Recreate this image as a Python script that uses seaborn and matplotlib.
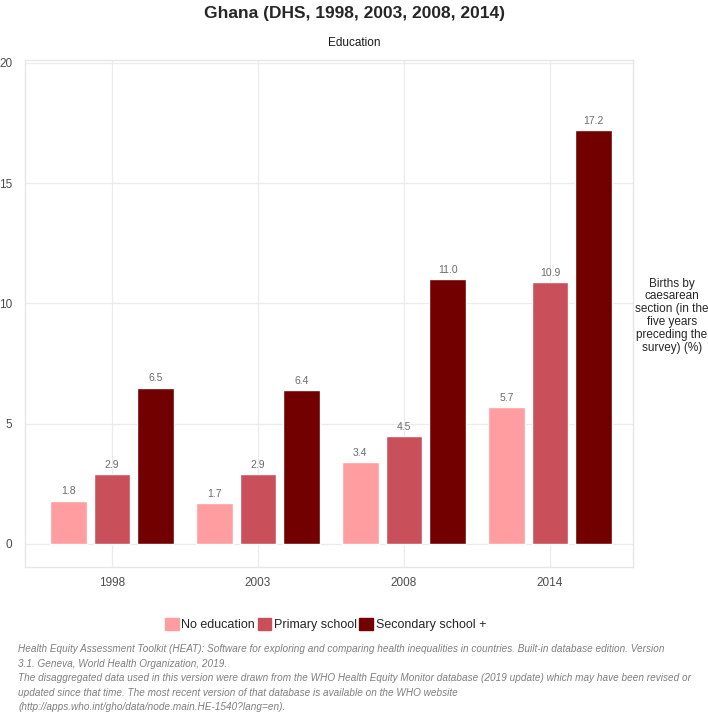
import numpy as np
import pandas as pd
import seaborn as sns
import matplotlib.pyplot as plt

# values
years = ['1998', '2003', '2008', '2014']
groups = ['No education', 'Primary school', 'Secondary school +']
no_education = [1.8, 1.7, 3.4, 5.7]
primary_school = [2.9, 2.9, 4.5, 10.9]
secondary_school = [6.5, 6.4, 11.0, 17.2]
colors = ['#ff9da1', '#c9505a', '#730000']

df = pd.DataFrame({
    'year': years * 3,
    'group': [g for g in groups for _ in years],
    'value': no_education + primary_school + secondary_school,
})

sns.set_style('white')
plt.rcParams['font.family'] = ['Liberation Sans', 'DejaVu Sans']

fig = plt.figure(figsize=(7.08, 7.16), dpi=100)
ax = fig.add_axes([0.0353, 0.2081, 0.8588, 0.7081])

sns.barplot(data=df, x='year', y='value', hue='group', order=years, hue_order=groups,
            palette=colors, width=0.9, gap=0.16, saturation=1, ax=ax, legend=False)

for cont in ax.containers:
    ax.bar_label(cont, fmt='%.1f', padding=3, fontsize=7.5, color='#6b6b6b')

ax.set_xlim(-0.596, 3.568)
ax.set_ylim(-0.96, 20.12)
ax.set_yticks([0, 5, 10, 15, 20])
ax.set_xlabel('')
ax.set_ylabel('')
ax.grid(True, color='#ebebeb', linewidth=0.9)
ax.set_axisbelow(True)
for s in ax.spines.values():
    s.set_color('#e6e6e6')
    s.set_linewidth(1.0)
ax.tick_params(axis='both', length=4, color='#e0e0e0', labelsize=8.5, labelcolor='#4d4d4d', pad=3)
ax.tick_params(axis='y', pad=5)

fig.text(0.5, 0.981, 'Ghana (DHS, 1998, 2003, 2008, 2014)', ha='center', va='center',
         fontsize=12.5, fontweight='bold')
fig.text(0.5, 0.940, 'Education', ha='center', va='center', fontsize=8.5, color='#1a1a1a')
fig.text(0.949, 0.559, 'Births by\ncaesarean\nsection (in the\nfive years\npreceding the\nsurvey) (%)',
         ha='center', va='center', fontsize=8.5, linespacing=1.1)

handles = [plt.Rectangle((0, 0), 1, 1, color=c) for c in colors]
fig.legend(handles, groups, loc='center', bbox_to_anchor=(0.46, 0.128), ncol=3, frameon=False,
           fontsize=9, handlelength=1.1, handleheight=1.1, handletextpad=0.2, columnspacing=0.2)

caption = ('Health Equity Assessment Toolkit (HEAT): Software for exploring and comparing health inequalities in countries. Built-in database edition. Version\n'
           '3.1. Geneva, World Health Organization, 2019.\n'
           'The disaggregated data used in this version were drawn from the WHO Health Equity Monitor database (2019 update) which may have been revised or\n'
           'updated since that time. The most recent version of that database is available on the WHO website\n'
           '(http://apps.who.int/gho/data/node.main.HE-1540?lang=en).')
fig.text(0.026, 0.1, caption, ha='left', va='top', fontsize=7.2, style='italic',
         color='#7f7f7f', linespacing=1.55)

fig.savefig('out.png', dpi=100)
